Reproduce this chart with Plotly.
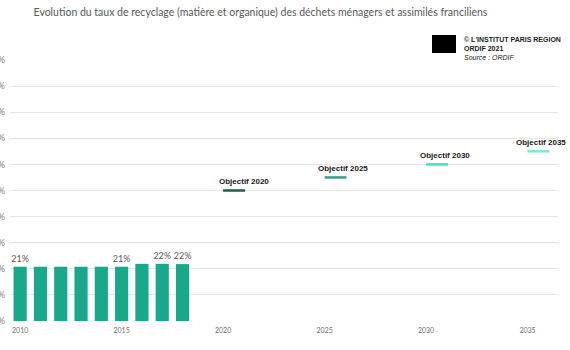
import plotly.graph_objects as go

years = [2010, 2011, 2012, 2013, 2014, 2015, 2016, 2017, 2018]
rates = [20.8, 20.8, 20.8, 20.8, 20.8, 20.8, 21.9, 21.9, 21.8]
rate_labels = ["21%", "", "", "", "", "21%", "", "22%", "22%"]

obj_years = [2020, 2025, 2030, 2035]
obj_values = [50, 55, 60, 65]
obj_names = ["Objectif 2020", "Objectif 2025", "Objectif 2030", "Objectif 2035"]
obj_colors = ["#1f5c4a", "#3a9a80", "#3ee0c0", "#7ee8d8"]

x_ticks = [2010, 2015, 2020, 2025, 2030, 2035]
y_ticks = list(range(0, 101, 10))

fig = go.Figure()
fig.add_trace(go.Bar(
    x=years, y=rates, width=0.65,
    marker=dict(color="#1aa88a", line=dict(width=0)),
    text=rate_labels, textposition="outside", constraintext="none",
    textfont=dict(family="Lato", size=9, color="#595959"),
    cliponaxis=False, hoverinfo="skip",
))

label_dx = [1.05, 0.9, 0.95, 0.65]
for yr, val, name, col, dx in zip(obj_years, obj_values, obj_names, obj_colors, label_dx):
    fig.add_trace(go.Scatter(
        x=[yr, yr + 1.08], y=[val, val], mode="lines",
        line=dict(color=col, width=2.5), hoverinfo="skip",
    ))
    fig.add_annotation(
        x=yr + dx, y=val, text="<b>" + name + "</b>", showarrow=False,
        yshift=9, xanchor="center", yanchor="middle",
        font=dict(family="Liberation Sans", size=8, color="#1a1a1a"),
    )

fig.update_layout(
    width=570, height=350,
    margin=dict(l=10, r=12, t=60, b=29, autoexpand=False),
    paper_bgcolor="white", plot_bgcolor="white",
    showlegend=False,
    title=dict(
        text="Evolution du taux de recyclage (matière et organique) des déchets ménagers et assimilés franciliens",
        x=0.457, xanchor="center", y=0.965, yanchor="middle",
        font=dict(family="Lato", size=10.5, color="#595959"),
    ),
    xaxis=dict(
        range=[2009.5, 2036.5], tickmode="array", tickvals=x_ticks,
        ticktext=[str(t) for t in x_ticks], showgrid=False, zeroline=False,
        showline=False, ticks="", automargin=False, ticklabelstandoff=4,
        tickfont=dict(family="Lato", size=7, color="#6f6f6f"),
    ),
    yaxis=dict(
        range=[0, 100], tickmode="array", tickvals=y_ticks,
        ticktext=[f"{t}%" for t in y_ticks], automargin=False,
        showgrid=True, gridcolor="#e6e6e6", gridwidth=1, zeroline=False,
        ticks="", tickfont=dict(family="Lato", size=9, color="#7f7f7f"),
        ticklabelstandoff=4,
    ),
)

# logo + credits
fig.add_shape(type="rect", xref="paper", yref="paper",
              x0=(432 - 10) / 548, x1=(456 - 10) / 548,
              y0=(350 - 29 - 53) / 261, y1=(350 - 29 - 35) / 261,
              fillcolor="black", line=dict(width=0))
fig.add_annotation(xref="paper", yref="paper", x=(462 - 10) / 548, y=(350 - 29 - 34) / 261,
                   xanchor="left", yanchor="top", showarrow=False, align="left",
                   text="<b>© L'INSTITUT PARIS REGION</b><br><b>ORDIF 2021</b><br><i>Source : ORDIF</i>",
                   font=dict(family="Liberation Sans", size=7, color="#222222"))

fig.write_html("out.html")
